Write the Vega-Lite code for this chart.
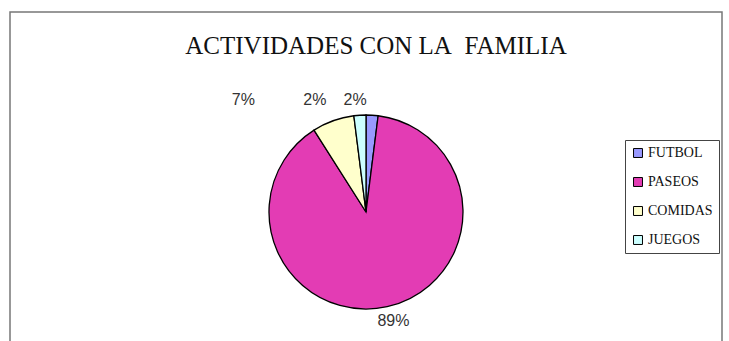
{
  "$schema": "https://vega.github.io/schema/vega-lite/v6.json",
  "width": 712,
  "height": 400,
  "autosize": {"type": "none"},
  "padding": {"left": 10, "top": 12, "right": 7, "bottom": 0},
  "background": "white",
  "view": {"stroke": "#777777", "strokeWidth": 1.5, "fill": "white"},
  "title": {
    "text": "ACTIVIDADES CON LA\u00a0 FAMILIA",
    "font": "Liberation Serif",
    "fontSize": 25,
    "fontWeight": "normal",
    "color": "#111111",
    "offset": -47,
    "anchor": "middle",
    "dx": 10
  },
  "data": {
    "values": [
      {"actividad": "FUTBOL", "porcentaje": 0.02, "orden": 1},
      {"actividad": "PASEOS", "porcentaje": 0.89, "orden": 2},
      {"actividad": "COMIDAS", "porcentaje": 0.07, "orden": 3},
      {"actividad": "JUEGOS", "porcentaje": 0.02, "orden": 4}
    ]
  },
  "encoding": {
    "theta": {"field": "porcentaje", "type": "quantitative", "stack": true},
    "order": {"field": "orden", "type": "quantitative"}
  },
  "layer": [
    {
      "mark": {"type": "arc", "outerRadius": 97, "stroke": "#000000", "strokeWidth": 1.3},
      "encoding": {
        "color": {
          "field": "actividad",
          "type": "nominal",
          "sort": ["FUTBOL", "PASEOS", "COMIDAS", "JUEGOS"],
          "scale": {
            "domain": ["FUTBOL", "PASEOS", "COMIDAS", "JUEGOS"],
            "range": ["#9999FF", "#E33CB4", "#FFFFCC", "#CCFFFF"]
          },
          "legend": {
            "title": null,
            "orient": "none",
            "legendX": 615,
            "legendY": 128,
            "symbolType": "square",
            "symbolSize": 80,
            "symbolStrokeColor": "#000000",
            "symbolStrokeWidth": 1,
            "labelFont": "Liberation Serif",
            "labelFontSize": 14,
            "labelColor": "#111111",
            "labelOffset": 3,
            "rowPadding": 15,
            "padding": 6,
            "strokeColor": "#444444",
            "fillColor": "white"
          }
        }
      }
    },
    {
      "mark": {"type": "text", "radius": 112, "font": "Liberation Sans", "fontSize": 16, "color": "#333333", "dx": 3},
      "encoding": {
        "text": {"condition": {"test": "datum.actividad == 'PASEOS'", "field": "porcentaje", "type": "quantitative", "format": ".0%"}, "value": ""}
      }
    },
    {
      "mark": {"type": "text", "radius": 114, "font": "Liberation Sans", "fontSize": 16, "color": "#333333", "dx": -18, "dy": 2},
      "encoding": {
        "text": {"condition": {"test": "datum.actividad == 'FUTBOL'", "field": "porcentaje", "type": "quantitative", "format": ".0%"}, "value": ""}
      }
    },
    {
      "mark": {"type": "text", "radius": 114, "font": "Liberation Sans", "fontSize": 16, "color": "#333333", "dx": -44, "dy": 2},
      "encoding": {
        "text": {"condition": {"test": "datum.actividad == 'JUEGOS'", "field": "porcentaje", "type": "quantitative", "format": ".0%"}, "value": ""}
      }
    },
    {
      "mark": {"type": "text", "radius": 114, "font": "Liberation Sans", "fontSize": 16, "color": "#333333", "dx": -84, "dy": -5},
      "encoding": {
        "text": {"condition": {"test": "datum.actividad == 'COMIDAS'", "field": "porcentaje", "type": "quantitative", "format": ".0%"}, "value": ""}
      }
    }
  ]
}
